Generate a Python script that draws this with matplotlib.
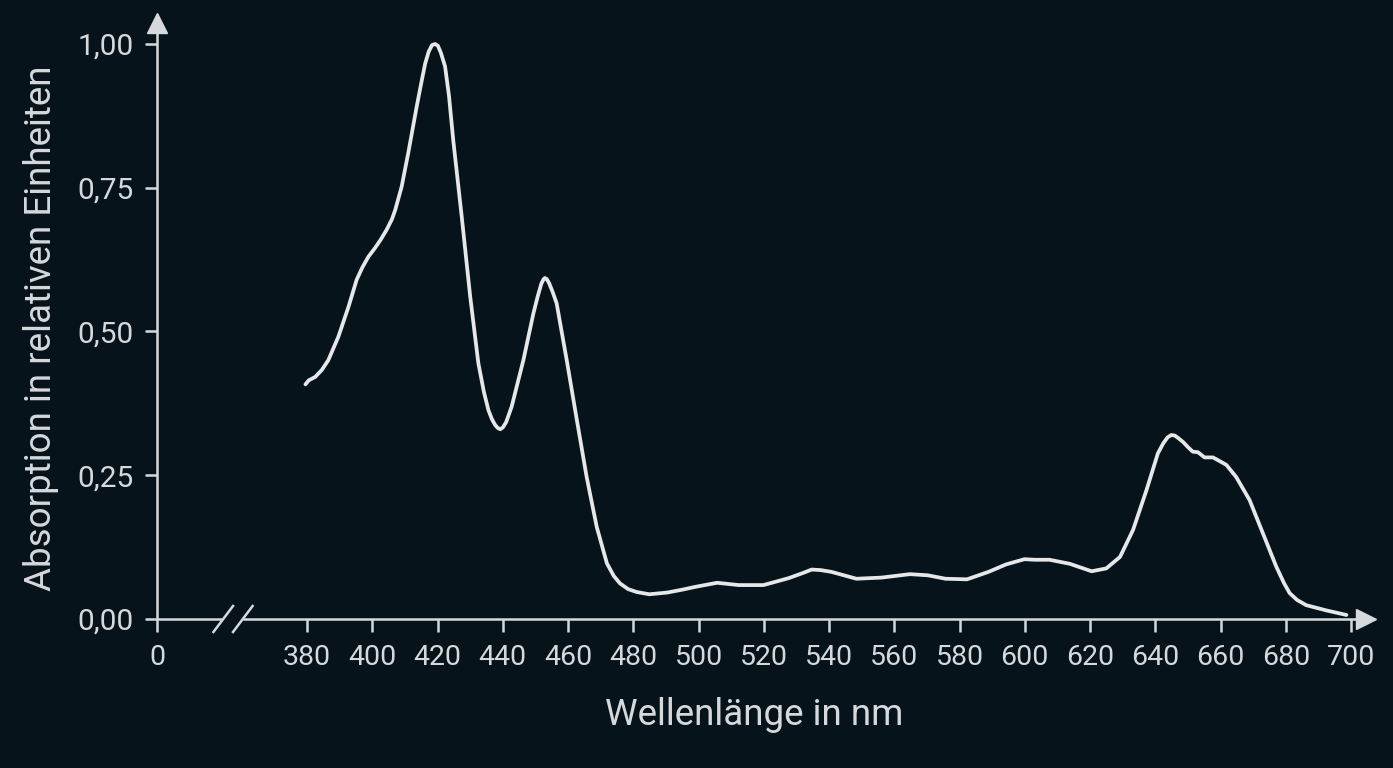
import matplotlib
matplotlib.use("Agg")
import matplotlib.pyplot as plt

# Absorption spectrum
wavelength = [379.5, 380.5, 382.5, 384.5, 386.5, 389.6, 392.7, 395.2, 397.0, 398.8,
              400.8, 402.6, 404.4, 406.0, 407.0, 409.0, 411.0, 413.6, 415.0, 416.2,
              417.3, 418.3, 419.2, 420.1, 421.0, 422.3, 423.5, 424.8, 427.4, 430.0,
              432.5, 434.2, 435.6, 436.7, 437.7, 438.5, 439.2, 440.0, 441.0, 442.7,
              446.3, 449.4, 450.7, 451.8, 452.5, 452.9, 453.5, 454.2, 455.2, 456.5,
              459.6, 462.7, 465.7, 468.8, 471.9, 474.0, 475.9, 478.4, 481.0, 484.9,
              490.4, 495.0, 499.1, 505.7, 512.3, 519.9, 527.6, 532.0, 534.7, 537.5,
              540.7, 548.4, 556.1, 564.8, 570.3, 575.7, 582.3, 588.9, 594.3, 599.9,
              603.2, 607.6, 613.8, 620.5, 625.0, 629.2, 633.2, 637.3, 640.8, 642.5,
              643.8, 644.9, 646.0, 647.2, 648.5, 650.0, 651.5, 653.1, 655.1, 657.7,
              661.8, 664.8, 668.9, 673.0, 677.1, 679.5, 681.2, 683.5, 686.3, 692.4,
              698.6]
absorption = [0.408, 0.415, 0.421, 0.433, 0.450, 0.491, 0.543, 0.590, 0.612, 0.630,
              0.645, 0.660, 0.677, 0.695, 0.711, 0.752, 0.810, 0.891, 0.932, 0.966,
              0.987, 0.998, 1.000, 0.997, 0.985, 0.961, 0.910, 0.833, 0.700, 0.561,
              0.445, 0.395, 0.363, 0.347, 0.337, 0.332, 0.330, 0.333, 0.342, 0.369,
              0.450, 0.532, 0.561, 0.583, 0.591, 0.593, 0.591, 0.584, 0.570, 0.549,
              0.450, 0.346, 0.247, 0.160, 0.097, 0.075, 0.062, 0.052, 0.047, 0.043,
              0.046, 0.051, 0.056, 0.063, 0.059, 0.059, 0.071, 0.080, 0.086, 0.085,
              0.082, 0.070, 0.072, 0.078, 0.076, 0.070, 0.069, 0.082, 0.095, 0.104,
              0.103, 0.103, 0.096, 0.083, 0.088, 0.108, 0.155, 0.224, 0.288, 0.306,
              0.316, 0.320, 0.319, 0.314, 0.308, 0.299, 0.291, 0.290, 0.281, 0.281,
              0.268, 0.247, 0.207, 0.149, 0.091, 0.062, 0.045, 0.033, 0.024, 0.015,
              0.007]

x_ticks = [380, 400, 420, 440, 460, 480, 500, 520, 540, 560, 580, 600, 620, 640, 660, 680, 700]
y_ticks = [0.0, 0.25, 0.5, 0.75, 1.0]
y_ticklabels = ["0,00", "0,25", "0,50", "0,75", "1,00"]

# where the "0" of the broken x axis sits, and the gap of the break
zero_pos = 334.0
gap = (353.9, 360.5)

bg = "#06131a"
fg = "#d6d9db"
line_col = "#e6e7e8"

plt.rcParams["font.family"] = ["Roboto", "DejaVu Sans"]

fig = plt.figure(figsize=(13.93, 7.68), dpi=100, facecolor=bg)
ax = fig.add_axes([0.11271, 0.19401, 0.86791, 0.77604], facecolor=bg)

ax.plot(wavelength, absorption, color=line_col, lw=2.7,
        solid_capstyle="round", solid_joinstyle="round")

ax.set_xlim(zero_pos, 704.6)
ax.set_ylim(0, 1.0365)

for s in ax.spines.values():
    s.set_visible(False)
ax.spines["left"].set_visible(True)
ax.spines["left"].set_color(fg)
ax.spines["left"].set_linewidth(1.8)

# bottom axis with a break
ax.plot([zero_pos, gap[0]], [0, 0], color=fg, lw=1.8, clip_on=False, solid_capstyle="butt")
ax.plot([gap[1], 704.6], [0, 0], color=fg, lw=1.8, clip_on=False, solid_capstyle="butt")
for cx in (354.3, 360.3):
    ax.plot([cx - 3.0, cx + 3.0], [-0.0226, 0.0226], color=fg, lw=1.8, clip_on=False)

# arrow heads
ax.plot(1, 0, ">", color=fg, ms=15, transform=ax.transAxes, clip_on=False)
ax.plot(0, 1, "^", color=fg, ms=15, transform=ax.transAxes, clip_on=False)

ax.set_xticks([zero_pos] + x_ticks)
ax.set_xticklabels(["0"] + [str(v) for v in x_ticks])
ax.set_yticks(y_ticks)
ax.set_yticklabels(y_ticklabels)
ax.tick_params(axis="x", direction="out", length=9, width=1.8, color=fg,
               labelcolor=fg, labelsize=20.5, pad=9)
ax.tick_params(axis="y", direction="out", length=9, width=1.8, color=fg,
               labelcolor=fg, labelsize=21.5, pad=8)

ax.set_xlabel("Wellenlänge in nm", color=fg, fontsize=26.5, labelpad=19)
ax.set_ylabel("Absorption in relativen Einheiten", color=fg, fontsize=26.5, labelpad=13)
ax.xaxis.label.set_x(0.494)
ax.yaxis.label.set_y(0.487)

fig.savefig("out.png", dpi=100, facecolor=bg)
